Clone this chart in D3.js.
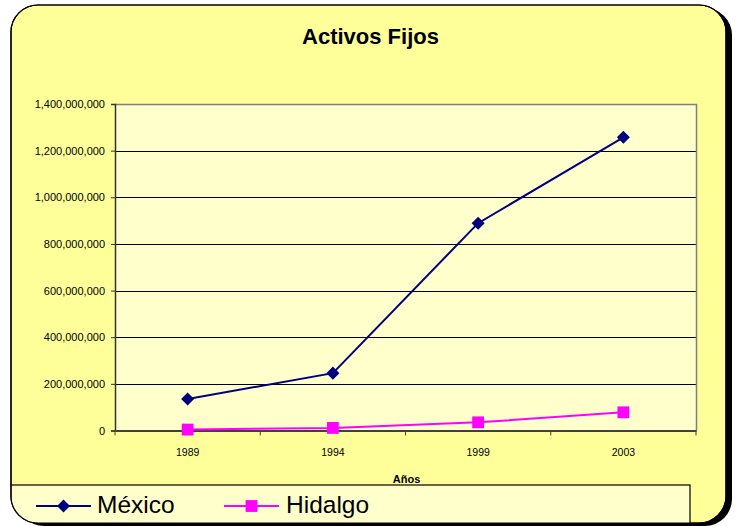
<!DOCTYPE html>
<html>
<head>
<meta charset="utf-8">
<script src="https://cdn.jsdelivr.net/npm/d3@7"></script>
<style>
html,body{margin:0;padding:0;background:#fff;}
svg{display:block;font-family:"Liberation Sans",Arial,sans-serif;}
</style>
</head>
<body>
<svg id="chart" width="741" height="526"></svg>
<script>
const years = ["1989", "1994", "1999", "2003"];
const mexico = [135000000, 246000000, 889000000, 1257000000];
const hidalgo = [4000000, 11000000, 35000000, 78000000];
const yTicks = [0, 200000000, 400000000, 600000000, 800000000, 1000000000, 1200000000, 1400000000];
const seriesNames = ["México", "Hidalgo"];
const title = "Activos Fijos";
const xTitle = "Años";

const svg = d3.select("#chart");
const frame = {x: 11, y: 5, w: 715, h: 518, r: 27};
const plot = {left: 115, top: 104, right: 696, bottom: 430.5};

// shadow + frame
svg.append("rect").attr("x", frame.x + 6).attr("y", frame.y + 3)
  .attr("width", frame.w).attr("height", frame.h).attr("rx", frame.r).attr("ry", frame.r)
  .attr("fill", "#000");
svg.append("rect").attr("x", frame.x).attr("y", frame.y)
  .attr("width", frame.w).attr("height", frame.h).attr("rx", frame.r).attr("ry", frame.r)
  .attr("fill", "#FFFF99").attr("stroke", "#000").attr("stroke-width", 1.2);

const defs = svg.append("defs");
defs.append("clipPath").attr("id", "fclip").append("rect")
  .attr("x", frame.x).attr("y", frame.y).attr("width", frame.w).attr("height", frame.h)
  .attr("rx", frame.r).attr("ry", frame.r);

// title
svg.append("text").attr("x", 370.5).attr("y", 43.5).attr("text-anchor", "middle")
  .attr("font-size", 22).attr("font-weight", "bold").attr("fill", "#000").text(title);

const x = d3.scaleBand().domain(years).range([plot.left, plot.right]);
const y = d3.scaleLinear().domain([0, 1400000000]).range([plot.bottom, plot.top]);

// plot background
svg.append("rect").attr("x", plot.left).attr("y", plot.top)
  .attr("width", plot.right - plot.left).attr("height", plot.bottom - plot.top)
  .attr("fill", "#FFFFCC");

// gridlines
svg.append("g").selectAll("line").data(yTicks.filter(d => d > 0 && d < 1400000000)).join("line")
  .attr("x1", plot.left).attr("x2", plot.right)
  .attr("y1", d => Math.round(y(d)) + 0.5).attr("y2", d => Math.round(y(d)) + 0.5)
  .attr("stroke", "#000").attr("stroke-width", 1);

// top and right border
svg.append("path")
  .attr("d", `M${plot.left},${plot.top + 0.5}H${plot.right + 0.5}V${plot.bottom}`)
  .attr("fill", "none").attr("stroke", "#808080").attr("stroke-width", 1.5);

// y axis
const yAxis = d3.axisLeft(y).tickValues(yTicks).tickSize(4).tickPadding(6)
  .tickFormat(d3.format(","));
const gy = svg.append("g").attr("transform", `translate(${plot.left},0)`).call(yAxis);
gy.select(".domain").attr("stroke", "#333").attr("stroke-width", 1.5);
gy.selectAll(".tick line").attr("stroke", "#333");
gy.selectAll("text").attr("font-size", 11).attr("fill", "#000")
  .attr("font-family", "Liberation Sans, Arial, sans-serif");

// x axis
const xAxis = d3.axisBottom(x).tickSize(0).tickPadding(18);
const gx = svg.append("g").attr("transform", `translate(0,${plot.bottom})`).call(xAxis);
gx.select(".domain").attr("stroke", "#404040").attr("stroke-width", 2);
gx.selectAll("text").attr("font-size", 10.5).attr("fill", "#000")
  .attr("font-family", "Liberation Sans, Arial, sans-serif");
const bounds = years.map(d => x(d)).concat([x(years[years.length - 1]) + x.bandwidth()]);
svg.append("g").selectAll("line").data(bounds).join("line")
  .attr("x1", d => d).attr("x2", d => d)
  .attr("y1", plot.bottom).attr("y2", plot.bottom + 5)
  .attr("stroke", "#404040").attr("stroke-width", 1);

// x title
svg.append("text").attr("x", (plot.left + plot.right) / 2 + 1).attr("y", 483)
  .attr("text-anchor", "middle").attr("font-size", 11).attr("font-weight", "bold")
  .attr("fill", "#000").text(xTitle);

const cx = d => x(d) + x.bandwidth() / 2;
const line = d3.line().x(d => cx(d.year)).y(d => y(d.v));
const mexData = years.map((yr, i) => ({year: yr, v: mexico[i]}));
const hidData = years.map((yr, i) => ({year: yr, v: hidalgo[i]}));

const colMex = "#000080", colHid = "#FF00FF";
const diamond = d3.symbol().type(d3.symbolSquare).size(85);
const square = d3.symbol().type(d3.symbolSquare).size(140);

svg.append("path").datum(hidData).attr("d", line).attr("fill", "none")
  .attr("stroke", colHid).attr("stroke-width", 2);
svg.append("g").selectAll("path").data(hidData).join("path")
  .attr("d", square).attr("transform", d => `translate(${cx(d.year)},${y(d.v)})`)
  .attr("fill", colHid);

svg.append("path").datum(mexData).attr("d", line).attr("fill", "none")
  .attr("stroke", colMex).attr("stroke-width", 2);
svg.append("g").selectAll("path").data(mexData).join("path")
  .attr("d", diamond).attr("transform", d => `translate(${cx(d.year)},${y(d.v)}) rotate(45)`)
  .attr("fill", colMex);

// legend
const lg = svg.append("g").attr("clip-path", "url(#fclip)");
lg.append("rect").attr("x", frame.x).attr("y", 485).attr("width", 690 - frame.x).attr("height", 40)
  .attr("fill", "#FFFFCC").attr("stroke", "#000").attr("stroke-width", 1.2);
svg.append("rect").attr("x", frame.x).attr("y", frame.y)
  .attr("width", frame.w).attr("height", frame.h).attr("rx", frame.r).attr("ry", frame.r)
  .attr("fill", "none").attr("stroke", "#000").attr("stroke-width", 1.2);

const legendItems = [
  {name: seriesNames[0], color: colMex, sym: "diamond", x1: 36, x2: 91, tx: 97},
  {name: seriesNames[1], color: colHid, sym: "square", x1: 224, x2: 279, tx: 286}
];
const ly = 506;
legendItems.forEach(it => {
  svg.append("line").attr("x1", it.x1).attr("x2", it.x2).attr("y1", ly).attr("y2", ly)
    .attr("stroke", it.color).attr("stroke-width", 2);
  const mx = (it.x1 + it.x2) / 2;
  svg.append("path")
    .attr("d", it.sym === "diamond" ? diamond : square)
    .attr("transform", `translate(${mx},${ly})` + (it.sym === "diamond" ? " rotate(45)" : ""))
    .attr("fill", it.color);
  svg.append("text").attr("x", it.tx).attr("y", 513).attr("font-size", 24.5)
    .attr("fill", "#000").text(it.name);
});
</script>
</body>
</html>
